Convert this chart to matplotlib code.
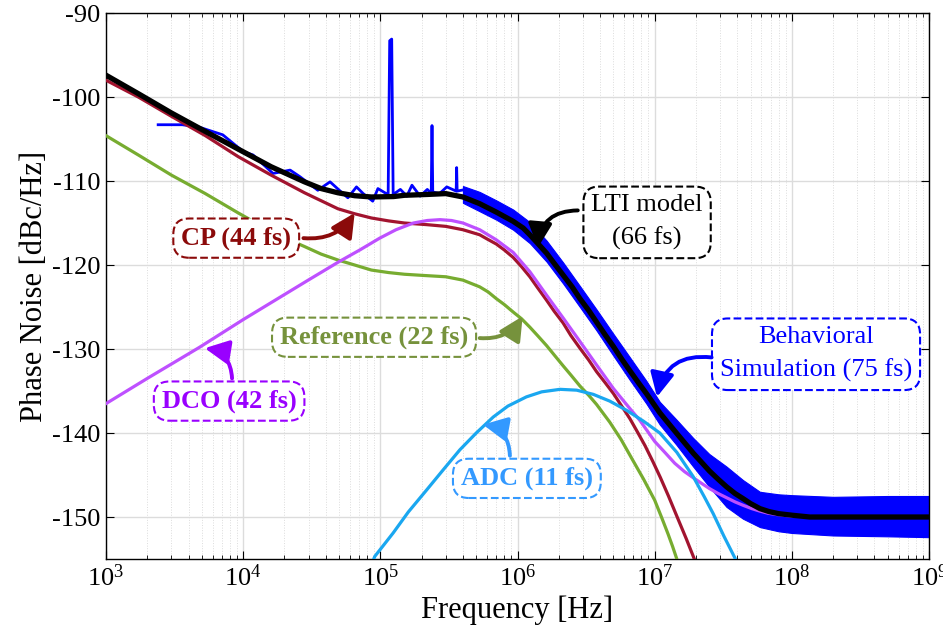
import numpy as np
import matplotlib
matplotlib.use("Agg")
from matplotlib import pyplot as plt

plt.rcParams['font.family'] = ['Liberation Serif', 'DejaVu Serif']
plt.rcParams['mathtext.fontset'] = 'stix'
plt.rcParams['lines.solid_joinstyle'] = 'round'

# LTI model (total)
lti_f = [1e3, 1.72e3, 3e3, 5.3e3, 9.2e3, 1.6e4, 2.8e4, 3.7e4, 4.9e4, 6.5e4, 8.6e4,
         1.25e5, 1.5e5, 2.2e5, 3e5, 4e5, 5.3e5, 7e5, 9.3e5, 1.1e6, 1.23e6, 1.4e6, 1.63e6,
         1.85e6, 2.15e6, 2.5e6, 2.85e6, 3.3e6, 3.77e6, 4.35e6, 5e6, 5.75e6, 6.6e6, 7.6e6,
         8.7e6, 1.09e7, 1.44e7, 1.91e7, 2.2e7, 2.5e7, 2.9e7, 3.34e7, 3.85e7, 4.4e7, 5e7,
         5.85e7, 6.8e7, 8e7, 1.02e8, 1.35e8, 3e8, 1e9]
lti_db = [-97.4, -99.6, -101.9, -104.1, -106.2, -108.3, -110.1, -110.9, -111.4, -111.75,
          -111.9, -111.85, -111.7, -111.6, -111.5, -111.9, -112.7, -113.7, -114.8, -115.6,
          -116.4, -117.4, -118.6, -119.8, -121.2, -122.6, -124.0, -125.4, -126.8, -128.3,
          -129.7, -131.2, -132.6, -134.0, -135.3, -137.6, -140.0, -142.4, -143.5, -144.5,
          -145.5, -146.4, -147.2, -147.8, -148.4, -149.0, -149.35, -149.6, -149.8, -150.0,
          -150.0, -150.0]

# noise contributors
cp_f = [1e3, 1.72e3, 3e3, 5.3e3, 9.2e3, 1.6e4, 2.8e4, 4.9e4, 6.5e4, 8.6e4, 1.15e5,
        1.5e5, 2.2e5, 3e5, 4e5, 5.3e5, 6e5, 7e5, 8e5, 9.3e5, 1.07e6, 1.23e6, 1.4e6,
        1.63e6, 1.85e6, 2.15e6, 2.45e6, 2.85e6, 3.3e6, 3.77e6, 4.35e6, 5e6, 5.75e6,
        6.6e6, 7.5e6, 8.5e6, 9.7e6, 1.1e7, 1.26e7, 1.45e7, 1.7e7, 2e7]
cp_db = [-98.0, -100.0, -102.3, -104.6, -107.1, -109.3, -111.4, -113.3, -113.9, -114.4,
         -114.75, -115.0, -115.2, -115.4, -115.8, -116.4, -116.9, -117.5, -118.2, -119.1,
         -120.2, -121.4, -122.7, -124.2, -125.5, -126.9, -128.4, -129.9, -131.3, -132.7,
         -134.0, -135.3, -136.8, -138.3, -139.9, -141.5, -143.4, -145.3, -147.5, -149.9,
         -152.6, -155.5]

ref_f = [1e3, 1.72e3, 3e3, 5.3e3, 9.2e3, 1.6e4, 2.1e4, 2.8e4, 3.7e4, 4.9e4, 6.5e4,
         8.6e4, 1.15e5, 1.5e5, 2.1e5, 3e5, 4e5, 5.3e5, 6.1e5, 7e5, 8e5, 9.3e5, 1.07e6,
         1.23e6, 1.4e6, 1.63e6, 1.85e6, 2.15e6, 2.45e6, 2.85e6, 3.3e6, 3.77e6, 4.7e6,
         5.7e6, 6.9e6, 8.3e6, 1e7, 1.12e7, 1.25e7, 1.35e7, 1.45e7, 1.5e7]
ref_db = [-104.6, -106.9, -109.3, -111.5, -113.8, -116.0, -116.9, -117.8, -118.7, -119.4,
          -120.0, -120.6, -120.9, -121.1, -121.25, -121.4, -121.8, -122.6, -123.2, -124.0,
          -124.7, -125.6, -126.4, -127.4, -128.4, -129.6, -130.7, -132.0, -133.1, -134.4,
          -135.5, -136.6, -138.7, -140.8, -143.2, -145.5, -148.0, -150.0, -152.0, -153.5,
          -155.0, -156.0]

dco_f = [1e3, 2e3, 4.8e3, 1e4, 2.98e4, 5e4, 7.1e4, 9.9e4, 1.3e5, 1.74e5, 2.2e5, 2.72e5,
         3.3e5, 4e5, 5.3e5, 7e5, 9.3e5, 1.23e6, 1.63e6, 2.15e6, 2.85e6, 3.77e6, 5e6, 6.6e6,
         7.8e6, 1e7, 1.2e7, 1.4e7, 1.65e7, 1.9e7, 2.2e7, 2.5e7, 2.9e7, 3.34e7, 3.85e7,
         4.4e7, 5.1e7, 5.85e7, 6.7e7, 7.7e7, 1e8, 2e8, 1e9]
dco_db = [-136.5, -133.5, -129.8, -126.5, -121.8, -119.6, -118.2, -116.8, -115.8, -115.0,
          -114.7, -114.6, -114.7, -115.0, -115.8, -117.0, -118.5, -120.8, -123.6, -126.3,
          -129.1, -131.9, -134.7, -137.1, -138.5, -141.0, -142.4, -143.6, -144.6, -145.3,
          -146.0, -146.6, -147.2, -147.7, -148.2, -148.6, -149.0, -149.3, -149.55, -149.7,
          -149.9, -150.0, -150.0]

adc_f = [8.5e4, 9.1e4, 1.24e5, 1.6e5, 2.17e5, 2.9e5, 3.8e5, 5e5, 6.65e5, 8.5e5, 1.16e6,
         1.5e6, 2.04e6, 2.7e6, 3.57e6, 4.7e6, 6.24e6, 8.3e6, 1.09e7, 1.45e7, 1.91e7, 2.3e7,
         2.67e7, 3.2e7, 3.85e7, 4.1e7]
adc_db = [-156.0, -154.7, -151.9, -149.4, -146.8, -144.3, -142.0, -140.0, -138.1, -136.8,
          -135.7, -135.1, -134.8, -134.9, -135.4, -136.2, -137.3, -138.6, -140.0, -142.3,
          -145.2, -147.6, -149.6, -152.3, -154.9, -156.2]

# behavioral simulation: low-frequency trace with spurs
sim_f = [2.4e3, 3.6e3, 4.8e3, 7.1e3, 1e4, 1.18e4, 1.65e4, 2.2e4, 2.6e4, 3.5e4, 4.3e4,
         5.1e4, 5.8e4, 6.7e4, 7.5e4, 8.8e4, 9.6e4, 1.08e5, 1.14e5, 1.17e5, 1.21e5, 1.24e5,
         1.4e5, 1.56e5, 1.7e5, 1.95e5, 2.2e5, 2.35e5, 2.38e5, 2.41e5, 2.7e5, 3.05e5,
         3.57e5, 3.6e5, 3.63e5, 4.2e5, 4.7e5]
sim_db = [-103.3, -103.3, -103.6, -104.5, -106.5, -106.9, -109.1, -108.7, -109.5, -111.1,
          -110.1, -111.2, -112.0, -110.7, -111.5, -112.4, -110.9, -111.4, -111.6, -93.3,
          -93.1, -111.6, -111.0, -111.8, -110.5, -111.8, -111.0, -111.5, -103.4, -111.3,
          -111.5, -110.7, -111.2, -108.4, -111.2, -111.0, -112.5]

# behavioral simulation: envelope of the noisy trace at high frequency
band_f = [4e5, 5.3e5, 7e5, 9.3e5, 1.23e6, 1.63e6, 2.15e6, 2.85e6, 3.77e6, 5e6, 6.6e6,
          8.7e6, 1.09e7, 1.44e7, 1.91e7, 2.5e7, 3.34e7, 4.4e7, 5.85e7, 8e7, 1e8, 2e8,
          5e8, 1e9]
band_hi = [-110.6, -111.3, -112.3, -113.4, -114.9, -117.1, -119.7, -122.5, -125.3, -128.2,
           -131.0, -133.8, -136.3, -138.4, -140.6, -142.5, -144.0, -145.6, -147.0, -147.3,
           -147.4, -147.6, -147.5, -147.5]
band_lo = [-112.6, -113.6, -114.6, -115.8, -117.4, -119.6, -122.2, -125.0, -127.8, -130.8,
           -133.7, -136.5, -139.0, -141.4, -144.0, -146.4, -148.8, -150.2, -151.2, -151.7,
           -151.9, -152.2, -152.3, -152.4]

fig = plt.figure(figsize=(9.43, 6.32), dpi=100)
ax = fig.add_axes([0.1124, 0.1155, 0.8728, 0.8639])

ax.fill_between(band_f, band_lo, band_hi, color='#0000FF', lw=0.8, ec='#0000FF', zorder=2)
ax.plot(sim_f, sim_db, color='#0000FF', lw=2.0, zorder=2)
ax.plot(cp_f, cp_db, color='#A2142F', lw=2.3, zorder=3)
ax.plot(ref_f, ref_db, color='#77AC30', lw=2.3, zorder=3)
ax.plot(dco_f, dco_db, color='#BE50FF', lw=2.3, zorder=3)
ax.plot(adc_f, adc_db, color='#1AA7F0', lw=2.3, zorder=3)
ax.plot(lti_f, lti_db, color='black', lw=3.8, zorder=4)

ax.set_xscale('log')
ax.set_xlim(1e3, 1e9)
ax.set_ylim(-155, -90)
ax.set_yticks(np.arange(-150, -89, 10))
ax.set_yticklabels(['-150', '-140', '-130', '-120', '-110', '-100', '-90'])
ax.grid(True, which='major', color='#DCDCDC', lw=1.0)
ax.grid(True, which='minor', color='#DCDCDC', lw=0.7, ls=':')
ax.set_axisbelow(True)
ax.tick_params(which='both', direction='in', top=True, right=True, labelsize=19)
ax.tick_params(which='major', length=6, pad=4)
ax.tick_params(which='minor', length=3)
for s in ax.spines.values():
    s.set_linewidth(1.0)
ax.set_xlabel('Frequency [Hz]', fontsize=22, labelpad=3)
ax.set_ylabel('Phase Noise [dBc/Hz]', fontsize=22, labelpad=2)


def label(text, xy, color, weight='bold', size=19, spacing=1.2):
    ax.text(xy[0], xy[1], text, color=color, fontsize=size, fontweight=weight,
            ha='center', va='center', zorder=6, linespacing=spacing,
            bbox=dict(boxstyle='round,pad=0.3,rounding_size=0.6', fc='white',
                      ec=color, ls='--', lw=1.5))


def arrow(start, tip, color, rad):
    ax.annotate('', xy=tip, xytext=start, zorder=6,
                arrowprops=dict(arrowstyle='-|>,head_length=0.8,head_width=0.4',
                                color=color, lw=2.8, mutation_scale=18,
                                shrinkA=0, shrinkB=0,
                                connectionstyle='arc3,rad=%s' % rad))


label('CP (44 fs)', (8.9e3, -116.8), '#8B0A0A')
arrow((2.75e4, -116.8), (6.5e4, -113.8), '#8B0A0A', 0.3)

label('Reference (22 fs)', (9.0e4, -128.6), '#76923C')
arrow((5.3e5, -128.7), (1.09e6, -126.1), '#76923C', 0.3)

label('DCO (42 fs)', (7.9e3, -136.2), '#9900FF')
arrow((8.3e3, -133.5), (5.25e3, -129.9), '#9900FF', 0.4)

label('ADC (11 fs)', (1.17e6, -145.4), '#3399FF')
arrow((8.8e5, -142.7), (5.6e5, -139.0), '#3399FF', 0.4)

label('LTI model\n(66 fs)', (8.8e6, -114.9), 'black', weight='normal', spacing=1.6)
arrow((2.75e6, -113.5), (1.41e6, -117.9), 'black', 0.45)

label('Behavioral\nSimulation (75 fs)', (1.5e8, -130.6), '#0000FF', weight='normal',
      spacing=1.6)
arrow((2.6e7, -131.0), (1.04e7, -135.7), '#0000FF', 0.45)

fig.savefig('out.png', dpi=100)
